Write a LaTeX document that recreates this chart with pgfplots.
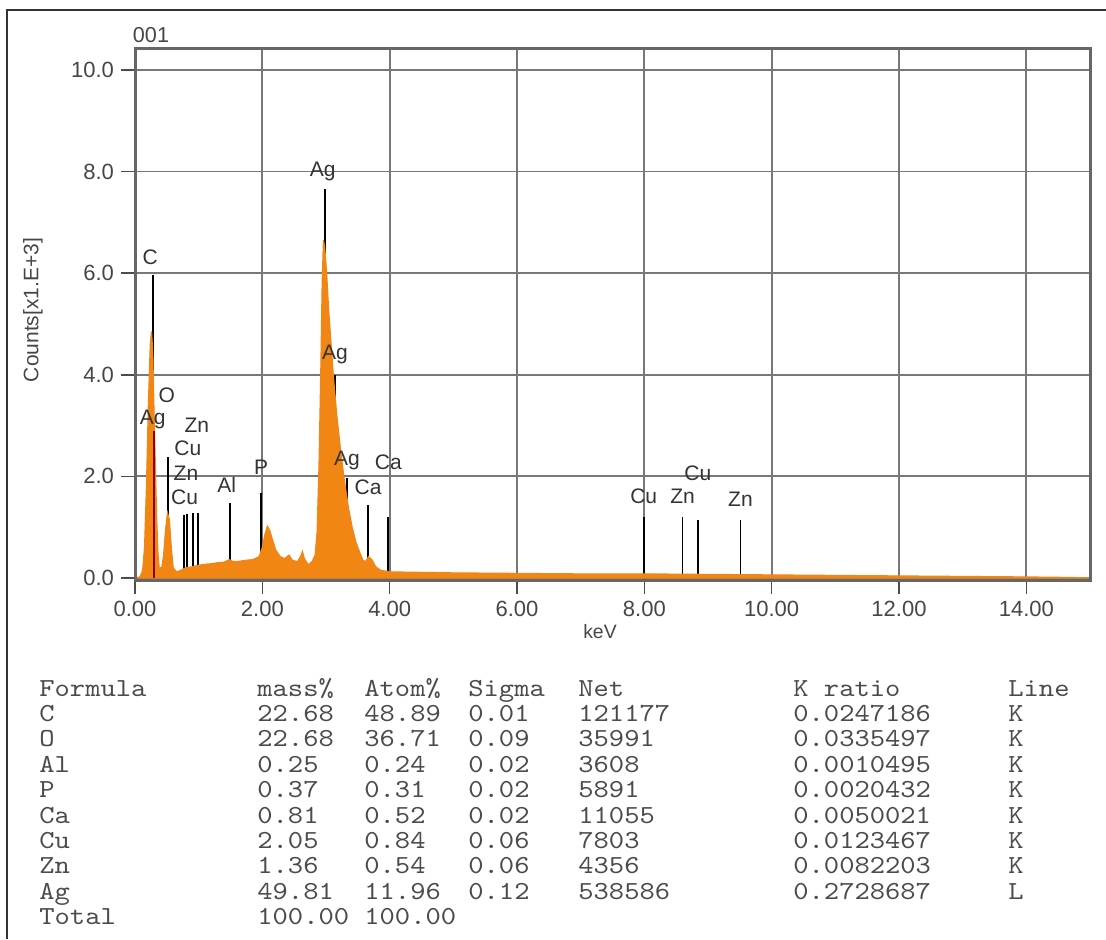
\documentclass[border=0pt]{standalone}
\usepackage{fontspec}
\setmainfont{Liberation Sans}
\newfontfamily\monofont{lmmono10-regular.otf}[FakeStretch=1.12]
\usepackage{pgfplots}
\pgfplotsset{compat=1.18}

\definecolor{spec}{RGB}{242,134,20}
\definecolor{tickc}{RGB}{70,70,70}
\definecolor{gridc}{RGB}{120,120,120}
\definecolor{tblc}{RGB}{75,75,75}

% one row of the result table: baseline y (px), then the seven cells
\newcommand{\trow}[8]{%
  \node[tbl] at (39,#1) {#2};
  \node[tbl] at (257,#1) {#3};
  \node[tbl] at (364,#1) {#4};
  \node[tbl] at (468,#1) {#5};
  \node[tbl] at (578,#1) {#6};
  \node[tbl] at (793,#1) {#7};
  \node[tbl] at (1008,#1) {#8};
}

\begin{document}
\begin{tikzpicture}
\path[use as bounding box] (0,0) rectangle (553pt,469.5pt);

\begin{axis}[
    at={(67.5pt,179.5pt)}, anchor=south west,
    scale only axis, width=477.5pt, height=266pt,
    xmin=0, xmax=15, ymin=-0.04, ymax=10.43,
    xtick={0,2,...,14}, ytick={0,2,...,10},
    xticklabels={0.00,2.00,4.00,6.00,8.00,10.00,12.00,14.00},
    yticklabels={0.0,2.0,4.0,6.0,8.0,10.0},
    tick label style={font=\fontsize{11}{13}\selectfont, text=tickc},
    xtick pos=bottom, ytick pos=left,
    tick align=outside, major tick length=7pt,
    tick style={draw=black!70, line width=0.8pt},
    grid=major, major grid style={draw=gridc, line width=0.9pt},
    axis line style={draw=black!60, line width=1.5pt},
    clip=false,
]
% element marker lines (keV, kcounts)
\addplot[ycomb, black, line width=0.8pt] coordinates {
  (0.28,5.96) (0.52,2.38)
  (0.77,1.24) (0.82,1.26) (0.91,1.28) (0.99,1.28)
  (1.49,1.47) (1.98,1.67)
  (2.98,7.66) (3.14,4.00) (3.33,1.97)
  (3.66,1.44) (3.97,1.20)
  (7.99,1.20) (8.60,1.20) (8.84,1.14) (9.51,1.14)
};
% spectrum
\addplot[fill=spec, draw=spec, line width=0.6pt] coordinates {
  (0.00,0.00) (0.08,0.02) (0.12,0.15) (0.15,0.60) (0.18,1.80) (0.21,3.40)
  (0.24,4.60) (0.26,4.85) (0.28,4.40) (0.30,3.20) (0.32,2.20) (0.34,1.20)
  (0.36,0.50) (0.38,0.20) (0.42,0.20) (0.45,0.45) (0.48,0.95) (0.51,1.28)
  (0.54,1.15) (0.57,0.60) (0.60,0.20) (0.65,0.12) (0.72,0.15) (0.80,0.20)
  (0.90,0.22) (1.00,0.25) (1.10,0.27) (1.20,0.28) (1.30,0.30) (1.40,0.31)
  (1.48,0.36) (1.55,0.32) (1.65,0.33) (1.75,0.35) (1.85,0.36) (1.95,0.42)
  (2.00,0.60) (2.04,0.85) (2.08,1.02) (2.12,0.92) (2.16,0.75) (2.21,0.55)
  (2.28,0.42) (2.35,0.38) (2.42,0.45) (2.47,0.35) (2.55,0.32) (2.60,0.42)
  (2.63,0.52) (2.66,0.38) (2.72,0.26) (2.78,0.32) (2.83,0.45) (2.86,0.90)
  (2.89,2.20) (2.92,4.20) (2.94,5.80) (2.96,6.65) (2.98,6.50) (3.01,6.00)
  (3.04,5.30) (3.08,4.60) (3.12,3.90) (3.17,3.20) (3.23,2.50) (3.29,1.90)
  (3.35,1.40) (3.41,1.00) (3.47,0.70) (3.53,0.50) (3.58,0.35) (3.62,0.32)
  (3.67,0.42) (3.72,0.36) (3.78,0.22) (3.86,0.15) (4.00,0.12) (4.50,0.11)
  (5.00,0.10) (6.00,0.09) (7.00,0.08) (8.00,0.08) (9.00,0.07) (10.00,0.06)
  (11.00,0.05) (12.00,0.04) (13.00,0.03) (14.00,0.02) (14.70,0.01) (15.00,0.00)
} \closedcycle;
% Ag M line seen through the C peak
\addplot[ycomb, red!55!black, line width=0.8pt] coordinates {(0.30,2.90)};
% element labels
\addplot[draw=none, nodes near coords, point meta=explicit symbolic,
  nodes near coords style={anchor=center, inner sep=0pt,
    font=\fontsize{10.5}{12}\selectfont, text=black!80}] coordinates {
  (0.24,6.32)[C] (0.28,3.11)[Ag] (0.50,3.60)[O]
  (0.97,3.01)[Zn] (0.83,2.56)[Cu] (0.80,2.07)[Zn] (0.78,1.59)[Cu]
  (1.44,1.83)[Al] (1.98,2.17)[P]
  (2.95,8.00)[Ag] (3.14,4.39)[Ag] (3.33,2.32)[Ag]
  (3.66,1.79)[Ca] (3.98,2.28)[Ca]
  (7.99,1.60)[Cu] (8.60,1.60)[Zn] (8.84,2.07)[Cu] (9.51,1.54)[Zn]
};
% axis box over the spectrum
\draw[black!60, line width=1.5pt] (rel axis cs:0,0) rectangle (rel axis cs:1,1);
\end{axis}

\begin{scope}[x=0.5pt, y=-0.5pt, shift={(0pt,469.5pt)},
  tbl/.style={anchor=base west, inner sep=0pt,
    font=\monofont\fontsize{13}{15}\selectfont, text=tblc}]
  % frame
  \draw[black!80, line width=0.8pt] (7,939) -- (7,10) -- (1106,10);
  % texts round the axis
  \node[font=\fontsize{10.8}{12}\selectfont, text=tickc] at (151,35) {001};
  \node[font=\fontsize{9.7}{11}\selectfont, text=tickc] at (600,632) {keV};
  \node[font=\fontsize{10.5}{12}\selectfont, text=tickc, rotate=90] at (33,310) {Counts[x1.E+3]};
  % result table
  \trow{696}{Formula}{mass\%}{Atom\%}{Sigma}{Net}{K ratio}{Line}
  \trow{721.4}{C}{22.68}{48.89}{0.01}{121177}{0.0247186}{K}
  \trow{746.8}{O}{22.68}{36.71}{0.09}{35991}{0.0335497}{K}
  \trow{772.2}{Al}{0.25}{0.24}{0.02}{3608}{0.0010495}{K}
  \trow{797.6}{P}{0.37}{0.31}{0.02}{5891}{0.0020432}{K}
  \trow{823}{Ca}{0.81}{0.52}{0.02}{11055}{0.0050021}{K}
  \trow{848.4}{Cu}{2.05}{0.84}{0.06}{7803}{0.0123467}{K}
  \trow{873.8}{Zn}{1.36}{0.54}{0.06}{4356}{0.0082203}{K}
  \trow{899.2}{Ag}{49.81}{11.96}{0.12}{538586}{0.2728687}{L}
  \trow{924.6}{Total}{100.00}{100.00}{}{}{}{}
\end{scope}
\end{tikzpicture}
\end{document}
